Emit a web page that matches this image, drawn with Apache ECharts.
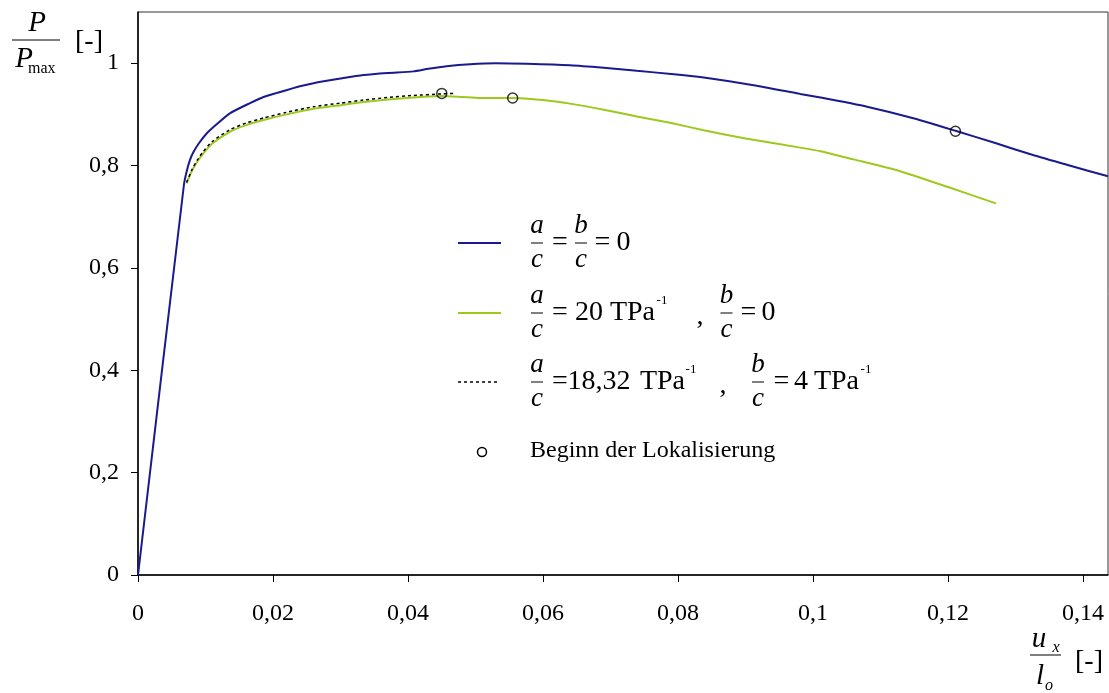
<!DOCTYPE html>
<html><head><meta charset="utf-8">
<script src="https://cdn.jsdelivr.net/npm/echarts@6/dist/echarts.min.js"></script>
<style>html,body{margin:0;padding:0;background:#fff}#c{width:1109px;height:693px}</style>
</head><body><div id="c"></div>
<script>
const xTicks = [0, 0.02, 0.04, 0.06, 0.08, 0.10, 0.12, 0.14];
const xTickLabels = ['0', '0,02', '0,04', '0,06', '0,08', '0,1', '0,12', '0,14'];
const yTicks = [0, 0.2, 0.4, 0.6, 0.8, 1];
const yTickLabels = ['0', '0,2', '0,4', '0,6', '0,8', '1'];

const blueX = [0, 0.0068, 0.0072, 0.0077, 0.0082, 0.0090, 0.0102, 0.0116, 0.0136, 0.0166, 0.0186, 0.0206, 0.024, 0.026, 0.030, 0.0334, 0.037, 0.0408, 0.043, 0.0457, 0.0492, 0.053, 0.0576, 0.064, 0.069, 0.0739, 0.079, 0.0838, 0.0912, 0.0981, 0.1011, 0.108, 0.115, 0.1211, 0.127, 0.1327, 0.138, 0.1437];
const blueY = [0, 0.762, 0.788, 0.811, 0.826, 0.843, 0.863, 0.880, 0.902, 0.922, 0.934, 0.942, 0.955, 0.961, 0.970, 0.977, 0.981, 0.984, 0.989, 0.994, 0.998, 1.0, 0.999, 0.996, 0.991, 0.985, 0.979, 0.972, 0.957, 0.940, 0.933, 0.915, 0.892, 0.868, 0.844, 0.820, 0.800, 0.779];

const greenX = [0.0072, 0.0080, 0.0088, 0.0097, 0.0110, 0.0136, 0.016, 0.0186, 0.022, 0.026, 0.030, 0.0334, 0.037, 0.0408, 0.045, 0.048, 0.0507, 0.0555, 0.060, 0.064, 0.069, 0.0739, 0.079, 0.0838, 0.090, 0.0981, 0.1011, 0.106, 0.1129, 0.120, 0.1271];
const greenY = [0.765, 0.790, 0.808, 0.824, 0.843, 0.866, 0.879, 0.889, 0.900, 0.911, 0.918, 0.924, 0.929, 0.933, 0.936, 0.934, 0.932, 0.932, 0.928, 0.921, 0.909, 0.896, 0.883, 0.869, 0.853, 0.835, 0.828, 0.812, 0.789, 0.758, 0.726];

const dotX = [0.0072, 0.0080, 0.0088, 0.0097, 0.0110, 0.0136, 0.016, 0.0186, 0.022, 0.026, 0.030, 0.0334, 0.037, 0.0408, 0.045, 0.0467];
const dotY = [0.767, 0.792, 0.811, 0.828, 0.847, 0.870, 0.883, 0.893, 0.904, 0.915, 0.922, 0.928, 0.933, 0.937, 0.940, 0.941];

const locX = [0.045, 0.0555, 0.1211];
const locY = [0.941, 0.932, 0.867];

const zip = (a, b) => a.map((v, i) => [v, b[i]]);
const lookup = (ticks, labels) => v => {
  const i = ticks.findIndex(t => Math.abs(t - v) < 1e-9);
  return i < 0 ? '' : labels[i];
};

const FONT = 'Liberation Serif';
const BLUE = '#1a1a8e';
const GREEN = '#9dc81e';

function t(x, y, s, o) {
  o = o || {};
  return { type: 'text', x: x, y: y, silent: true, style: {
    text: s, fill: '#000', font: (o.italic ? 'italic ' : '') + (o.size || 28) + 'px "' + FONT + '"',
    textAlign: o.align || 'center', textVerticalAlign: 'middle' } };
}
function bar(x1, x2, y) {
  return { type: 'line', silent: true, shape: { x1: x1, y1: y, x2: x2, y2: y }, style: { stroke: '#000', lineWidth: 1 } };
}
function frac(cx, y, num, den) {
  return [t(cx, y - 17, num, { italic: true, size: 27 }), bar(cx - 6, cx + 6, y), t(cx, y + 17, den, { italic: true, size: 27 })];
}
const SUP = { size: 13 };

const graphics = [].concat(
  // legend row 1
  [{ type: 'line', silent: true, shape: { x1: 458, y1: 243, x2: 501, y2: 243 }, style: { stroke: BLUE, lineWidth: 2 } }],
  frac(537, 243, 'a', 'c'), [t(560, 243, '=')], frac(581, 243, 'b', 'c'), [t(602.5, 243, '='), t(623.5, 243, '0')],
  // row 2
  [{ type: 'line', silent: true, shape: { x1: 458, y1: 313, x2: 501, y2: 313 }, style: { stroke: GREEN, lineWidth: 2 } }],
  frac(537, 313, 'a', 'c'), [t(560, 313, '='), t(589, 313, '20'), t(632.5, 313, 'TPa'), t(662, 301, '-1', SUP), t(700, 317, ',')],
  frac(726.5, 313, 'b', 'c'), [t(748.5, 313, '='), t(768.5, 313, '0')],
  // row 3
  [{ type: 'line', silent: true, shape: { x1: 458, y1: 382, x2: 500, y2: 382 }, style: { stroke: '#000', lineWidth: 1.5, lineDash: [3, 3] } }],
  frac(537, 382, 'a', 'c'), [t(560, 382, '='), t(599, 382, '18,32'), t(662.5, 382, 'TPa'), t(691, 370, '-1', SUP), t(723, 386, ',')],
  frac(758, 382, 'b', 'c'), [t(781.5, 382, '='), t(801, 382, '4'), t(836.5, 382, 'TPa'), t(866, 370, '-1', SUP)],
  // row 4
  [{ type: 'circle', silent: true, shape: { cx: 482, cy: 452, r: 4.5 }, style: { fill: '#fff', stroke: '#000', lineWidth: 1.5 } }],
  [t(530, 451, 'Beginn der Lokalisierung', { size: 24, align: 'left' })],
  // y axis title
  [t(37, 23, 'P', { italic: true, size: 29 }), bar(12, 60, 40), t(24, 59, 'P', { italic: true, size: 29 }), t(28, 69, 'max', { size: 16, align: 'left' }), t(75, 42, '[-]', { size: 28, align: 'left' })],
  // x axis title
  [t(1039, 639, 'u', { italic: true, size: 29 }), t(1056, 648, 'x', { italic: true, size: 16 }), bar(1030, 1061, 655),
   t(1040, 676, 'l', { italic: true, size: 29 }), t(1049, 686, 'o', { italic: true, size: 16 }), t(1075, 662, '[-]', { size: 28, align: 'left' })]
);

const chart = echarts.init(document.getElementById('c'), null, { renderer: 'canvas' });
chart.setOption({
  animation: false,
  backgroundColor: '#fff',
  grid: { left: 138, right: 1, top: 12, bottom: 118, show: true, borderColor: '#333', borderWidth: 1 },
  xAxis: {
    type: 'value', min: 0, max: 0.1437,
    axisLine: { show: true, onZero: false, lineStyle: { color: '#000', width: 1.5 } },
    axisTick: { show: true, length: 7, customValues: xTicks, lineStyle: { color: '#000' } },
    axisLabel: { customValues: xTicks, formatter: lookup(xTicks, xTickLabels), margin: 27, color: '#000', fontSize: 24, fontFamily: FONT },
    splitLine: { show: false }
  },
  yAxis: {
    type: 'value', min: 0, max: 1.1,
    axisLine: { show: true, onZero: false, lineStyle: { color: '#000', width: 1.5 } },
    axisTick: { show: true, length: 7, customValues: yTicks, lineStyle: { color: '#000' } },
    axisLabel: { customValues: yTicks, formatter: lookup(yTicks, yTickLabels), margin: 19, color: '#000', fontSize: 24, fontFamily: FONT },
    splitLine: { show: false }
  },
  series: [
    { name: 'a/c = b/c = 0', type: 'line', data: zip(blueX, blueY), showSymbol: false, smooth: 0.2, lineStyle: { color: BLUE, width: 2 }, z: 2 },
    { name: 'a/c = 20', type: 'line', data: zip(greenX, greenY), showSymbol: false, smooth: 0.2, lineStyle: { color: GREEN, width: 2 }, z: 3 },
    { name: 'a/c = 18,32', type: 'line', data: zip(dotX, dotY), showSymbol: false, smooth: 0.2, lineStyle: { color: '#000', width: 1.5, type: [3, 3] }, z: 4 },
    { name: 'Beginn der Lokalisierung', type: 'scatter', data: zip(locX, locY), symbol: 'circle', symbolSize: 10, itemStyle: { color: 'rgba(255,255,255,0)', borderColor: '#000', borderWidth: 1.5 }, z: 5 }
  ],
  graphic: graphics
});
</script></body></html>
